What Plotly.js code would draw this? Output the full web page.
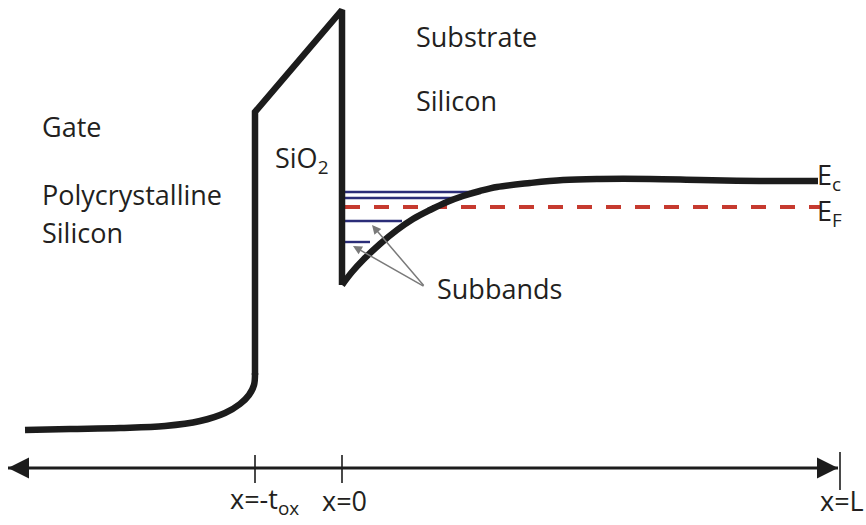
<!DOCTYPE html>
<html>
<head>
<meta charset="utf-8">
<script src="https://cdn.plot.ly/plotly-3.0.1.min.js"></script>
<style>
  html, body { margin: 0; padding: 0; background: #fff; }
  #chart { width: 866px; height: 525px; }
</style>
</head>
<body>
<div id="chart"></div>
<script>
// Position x (arbitrary units, x = 0 at the Si/SiO2 interface, x = -tox at the gate side)
// Energy E (arbitrary units, E = 0 on the position axis)

// Conduction band edge in the gate polysilicon (bends up towards the oxide)
const gateX = [-317, -272, -222, -177, -142, -117, -102, -93, -88, -87];
const gateE = [38, 39, 40, 42, 47, 55, 64, 73, 83, 95];

// Oxide barrier: gate side, peak, silicon side
const oxideX = [-87, -87, 0, 0];
const oxideE = [93, 356, 458, 183];

// Conduction band edge in the substrate silicon (inversion-layer well)
const substrateX = [0, 10, 21, 38, 55, 71, 88, 105, 121, 138, 155, 188, 221, 258, 308, 358, 418, 476];
const substrateE = [183, 196, 208, 224, 238, 249, 258, 266, 272, 277, 281, 285, 288, 289, 289, 288, 287, 287];

// Fermi level
const fermiX = [3, 478];
const fermiE = 261;

// Quantised subband levels in the inversion layer and where they meet the band edge
const subbandE = [276, 270, 247, 226];
const subbandEnd = [128, 120, 60, 28];
const subbandStart = 3;

// Position axis and its tick marks
const axisX = [-334, 496];
const tickX = [-87, 0, 498];
const tickTop = [13, 13, 16];
const tickBottom = [-15, -15, -22];
const tickLabels = ['x=-t<sub>ox</sub>', 'x=0', 'x=L'];
const tickLabelX = [-114, -22, 476];

// Pointer from the "Subbands" label to two of the levels
const pointerTail = [83, 181];
const pointerTipX = [30, 11];
const pointerTipE = [243, 222];

const ink = '#1c1c1c';
const textInk = '#231f20';

const traces = [];

// subband lines
subbandE.forEach((e, i) => {
  traces.push({
    x: [subbandStart, subbandEnd[i]], y: [e, e],
    mode: 'lines', line: {color: '#2b2d78', width: 2.4}, hoverinfo: 'skip'
  });
});

// Fermi level
traces.push({
  x: fermiX, y: [fermiE, fermiE],
  mode: 'lines', line: {color: '#c63a2f', width: 4, dash: '15px,14px'}, hoverinfo: 'skip'
});

// band edge: smooth pieces in the silicon, straight segments across the oxide
traces.push({
  x: gateX, y: gateE,
  mode: 'lines', line: {color: ink, width: 6.5, shape: 'spline', smoothing: 1}, hoverinfo: 'skip'
});
traces.push({
  x: oxideX, y: oxideE,
  mode: 'lines', line: {color: ink, width: 6.5}, hoverinfo: 'skip'
});
traces.push({
  x: substrateX, y: substrateE,
  mode: 'lines', line: {color: ink, width: 6.5, shape: 'spline', smoothing: 1}, hoverinfo: 'skip'
});

// position axis line
traces.push({
  x: axisX, y: [0, 0],
  mode: 'lines', line: {color: ink, width: 3}, hoverinfo: 'skip'
});

// tick marks
const tx = [], ty = [];
tickX.forEach((v, i) => { tx.push(v, v, null); ty.push(tickTop[i], tickBottom[i], null); });
traces.push({
  x: tx, y: ty, mode: 'lines', line: {color: ink, width: 1.6}, hoverinfo: 'skip'
});

const annotations = [];

// arrowheads at both ends of the position axis
const mid = (axisX[0] + axisX[1]) / 2;
axisX.forEach(end => {
  annotations.push({
    x: end, y: 0, ax: end > mid ? end - 20 : end + 20, ay: 0,
    xref: 'x', yref: 'y', axref: 'x', ayref: 'y',
    showarrow: true, arrowhead: 2, arrowsize: 1.4, arrowwidth: 3, arrowcolor: ink, text: ''
  });
});

// pointer arrows for the subbands
pointerTipX.forEach((px, i) => {
  annotations.push({
    x: px, y: pointerTipE[i], ax: pointerTail[0], ay: pointerTail[1],
    xref: 'x', yref: 'y', axref: 'x', ayref: 'y',
    showarrow: true, arrowhead: 2, arrowsize: 1.2, arrowwidth: 1.5, arrowcolor: '#7a7a7a', text: ''
  });
});

// region and level labels
const labels = [
  {text: 'Substrate', x: 72, y: 432},
  {text: 'Silicon', x: 72, y: 368},
  {text: 'Gate', x: -302, y: 342},
  {text: 'Polycrystalline', x: -302, y: 274},
  {text: 'Silicon', x: -302, y: 236},
  {text: 'SiO<sub>2</sub>', x: -69, y: 309},
  {text: 'Subbands', x: 93, y: 180},
  {text: 'E<sub>c</sub>', x: 473, y: 292},
  {text: 'E<sub>F</sub>', x: 473, y: 256}
];
labels.forEach(l => {
  annotations.push({
    text: l.text, x: l.x, y: l.y, xref: 'x', yref: 'y',
    xanchor: 'left', yanchor: 'middle', showarrow: false
  });
});

// position axis labels
tickLabels.forEach((t, i) => {
  annotations.push({
    text: t, x: tickLabelX[i], y: -32, xref: 'x', yref: 'y',
    xanchor: 'left', yanchor: 'middle', showarrow: false
  });
});

const layout = {
  width: 866, height: 525,
  margin: {l: 0, r: 0, t: 0, b: 0},
  paper_bgcolor: '#ffffff', plot_bgcolor: '#ffffff',
  showlegend: false,
  font: {family: 'Open Sans, sans-serif', size: 27, color: textInk},
  xaxis: {range: [-342, 524], visible: false, fixedrange: true},
  yaxis: {range: [-57, 468], visible: false, fixedrange: true},
  annotations: annotations
};

Plotly.newPlot('chart', traces, layout, {staticPlot: true, displayModeBar: false});
</script>
</body>
</html>
